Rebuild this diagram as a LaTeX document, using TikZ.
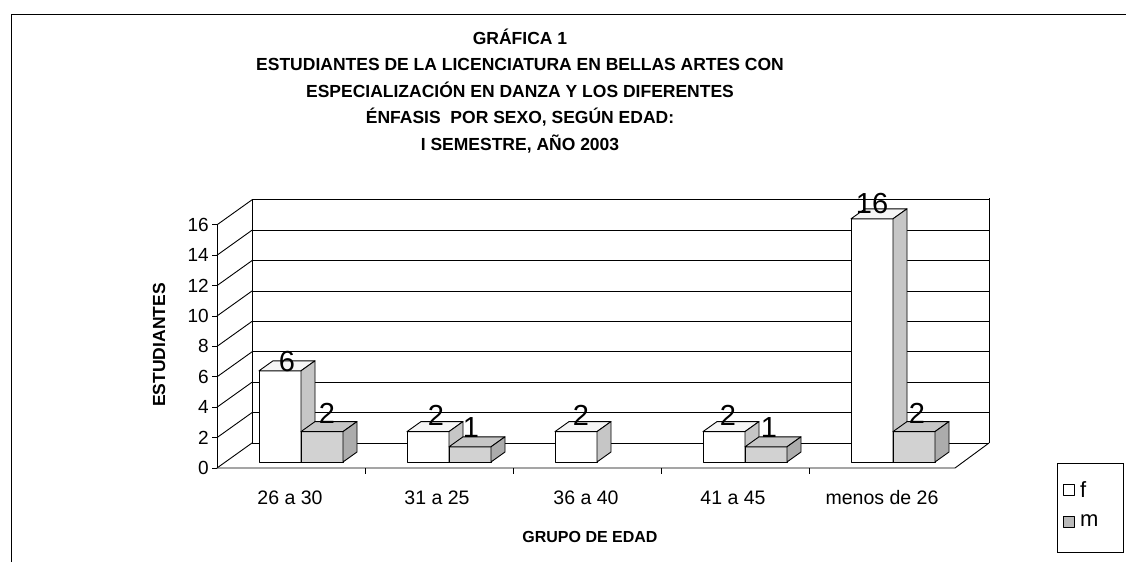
\documentclass[tikz,border=0pt]{standalone}
\usepackage{fontspec}
\setmainfont{Liberation Sans}
\newcommand\barbox[6]{%
  \pgfmathsetmacro\ytop{462-15.2*#3}%
  \draw[#4] (#1,462) -- (#2,462) -- (#2,\ytop) -- (#1,\ytop) -- cycle;
  \draw[#5] (#1,\ytop) -- (#2,\ytop) -- ({#2+14},{\ytop-10}) -- ({#1+14},{\ytop-10}) -- cycle;
  \draw[#6] (#2,462) -- ({#2+14},452) -- ({#2+14},{\ytop-10}) -- (#2,\ytop) -- cycle;
}
\begin{document}
\begin{tikzpicture}[x=1pt,y=-1pt,
  frameline/.style={draw=black, line width=1pt},
  gridline/.style={draw=black, line width=0.9pt},
  barline/.style={draw=black, line width=0.9pt, line join=round},
  ffront/.style={barline, fill=white},
  ftop/.style={barline, fill=gray!8},
  fside/.style={barline, fill=gray!45},
  mfront/.style={barline, fill=gray!35},
  mtop/.style={barline, fill=gray!45},
  mside/.style={barline, fill=gray!65},
  titletext/.style={font=\bfseries\fontsize{17.5}{26.5}\selectfont, align=center, inner sep=0pt},
  ticklabel/.style={font=\fontsize{19}{19}\selectfont, anchor=east, inner sep=0pt},
  catlabel/.style={font=\fontsize{19.5}{19.5}\selectfont, inner sep=0pt, anchor=base},
  vallabel/.style={font=\fontsize{29}{29}\selectfont, inner sep=0pt},
  axistitle/.style={font=\bfseries\fontsize{16}{16}\selectfont, inner sep=0pt},
  legendtext/.style={font=\fontsize{22}{22}\selectfont, anchor=west, inner sep=0pt},
]
\useasboundingbox (0,0) rectangle (1126,562);
\fill[white] (0,0) rectangle (1126,562);

% outer frame
\draw[frameline] (11,562) -- (11,14) -- (1126,14);

% title
\node[titletext] (title) at (520,91) {GRÁFICA 1\\
ESTUDIANTES DE LA LICENCIATURA EN BELLAS ARTES CON\\
ESPECIALIZACIÓN EN DANZA Y LOS DIFERENTES\\
ÉNFASIS\ \ POR SEXO, SEGÚN EDAD:\\
I SEMESTRE, AÑO 2003};

% walls and grid
\draw[gridline] (252,200) -- (252,443);
\draw[gridline] (989,198) -- (989,443);
\foreach \v in {0,2,...,16} {
  \pgfmathsetmacro\yb{443-15.2*\v}
  \pgfmathsetmacro\yf{468-15.2*\v}
  \draw[gridline] (252,\yb) -- (989,\yb);
  \draw[gridline] (217,\yf) -- (252,\yb);
  \draw[gridline] (212,\yf) -- (217,\yf);
  \node[ticklabel] (tick\v) at (209,\yf) {\v};
}
\draw[gridline] (217,468) -- (217,225);
\draw[gridline] (217,468) -- (955,468) -- (989,443);
\foreach \x in {365,513,661,809} {
  \draw[gridline] (\x,468) -- (\x,474);
}

% bars
\barbox{259}{301}{6}{ffront}{ftop}{fside}
\barbox{301}{343}{2}{mfront}{mtop}{mside}
\barbox{407}{449}{2}{ffront}{ftop}{fside}
\barbox{449}{491}{1}{mfront}{mtop}{mside}
\barbox{555}{597}{2}{ffront}{ftop}{fside}
\barbox{703}{745}{2}{ffront}{ftop}{fside}
\barbox{745}{787}{1}{mfront}{mtop}{mside}
\barbox{851}{893}{16}{ffront}{ftop}{fside}
\barbox{893}{935}{2}{mfront}{mtop}{mside}

% value labels
\node[vallabel] (v1f) at (287,362) {6};
\node[vallabel] (v1m) at (327,413) {2};
\node[vallabel] (v2f) at (436,415) {2};
\node[vallabel] (v2m) at (471,428) {1};
\node[vallabel] (v3f) at (581,415) {2};
\node[vallabel] (v4f) at (728,415) {2};
\node[vallabel] (v4m) at (769,428) {1};
\node[vallabel] (v5f) at (872,204) {16};
\node[vallabel] (v5m) at (917,413) {2};

% category labels
\node[catlabel] (c1) at (290,504) {26 a 30};
\node[catlabel] (c2) at (437,504) {31 a 25};
\node[catlabel] (c3) at (586,504) {36 a 40};
\node[catlabel] (c4) at (733,504) {41 a 45};
\node[catlabel] (c5) at (882,504) {menos de 26};

% axis titles
\node[axistitle] (xtitle) at (590,537) {GRUPO DE EDAD};
\node[axistitle, font=\bfseries\fontsize{17.5}{17.5}\selectfont, rotate=90] (ytitle) at (159,345) {ESTUDIANTES};

% legend
\draw[frameline] (1057,463) rectangle (1123,552);
\draw[ffront] (1063,484) rectangle (1074,495);
\node[legendtext] (lf) at (1080,490) {f};
\draw[mfront, fill=gray!55] (1063,516) rectangle (1074,527);
\node[legendtext] (lm) at (1080,521) {m};
\end{tikzpicture}
\end{document}
